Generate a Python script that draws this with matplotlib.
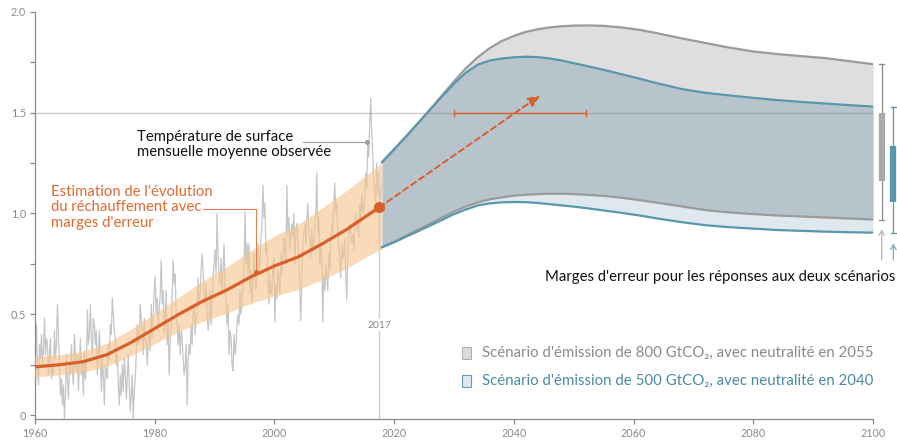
import numpy as np
import matplotlib
matplotlib.use("Agg")
import matplotlib.pyplot as plt

plt.rcParams['font.family'] = ['Lato', 'DejaVu Sans']

# ---------------- data ----------------
# observed monthly-mean surface temperature (read ~bimonthly from the picture), 1960 -> 2017
obs_values = [
    0.30, 0.45, 0.22, 0.15, 0.35, 0.28,   0.40, 0.25, 0.32, 0.48, 0.30, 0.38,
    0.35, 0.20, 0.30, 0.38, 0.18, 0.25,   0.20, 0.42, 0.28, 0.35, 0.55, 0.40,
    0.25, 0.10, 0.18, 0.05, 0.15, -0.02,  0.10, 0.30, 0.18, 0.08, 0.25, 0.20,
    0.35, 0.22, 0.15, 0.40, 0.30, 0.22,   0.30, 0.12, 0.25, 0.38, 0.20, 0.25,
    0.10, 0.32, 0.18, 0.25, 0.52, 0.35,   0.40, 0.55, 0.38, 0.30, 0.48, 0.45,
    0.35, 0.42, 0.20, 0.30, 0.42, 0.28,   0.12, 0.30, 0.20, 0.05, 0.25, 0.22,
    0.18, 0.35, 0.28, 0.45, 0.40, 0.58,   0.50, 0.42, 0.38, 0.25, 0.30, 0.15,
    0.05, 0.20, 0.10, 0.25, 0.12, 0.28,   0.22, 0.08, 0.18, 0.30, 0.15, 0.02,
    0.10, 0.20, -0.02, 0.12, 0.18, 0.30,  0.45, 0.35, 0.38, 0.55, 0.48, 0.40,
    0.30, 0.48, 0.38, 0.35, 0.25, 0.38,   0.42, 0.32, 0.55, 0.38, 0.50, 0.62,
    0.69, 0.50, 0.58, 0.42, 0.52, 0.60,   0.77, 0.55, 0.62, 0.40, 0.48, 0.62,
    0.35, 0.45, 0.20, 0.38, 0.45, 0.60,   0.77, 0.65, 0.70, 0.50, 0.45, 0.35,
    0.45, 0.30, 0.42, 0.38, 0.28, 0.20,   0.25, 0.35, 0.05, 0.28, 0.35, 0.30,
    0.45, 0.35, 0.50, 0.55, 0.40, 0.48,   0.50, 0.68, 0.55, 0.60, 0.72, 0.80,
    0.72, 0.60, 0.55, 0.65, 0.50, 0.42,   0.48, 0.62, 0.45, 0.55, 0.68, 0.75,
    0.82, 0.70, 1.00, 0.78, 0.70, 0.65,   0.78, 0.60, 0.72, 0.85, 0.62, 0.55,
    0.45, 0.55, 0.30, 0.42, 0.38, 0.25,   0.22, 0.40, 0.30, 0.35, 0.45, 0.50,
    0.45, 0.62, 0.50, 0.55, 0.65, 0.70,   1.01, 0.75, 0.85, 0.70, 0.85, 0.60,
    0.72, 0.55, 0.68, 0.80, 0.70, 0.62,   0.70, 0.85, 0.72, 0.75, 0.88, 0.95,
    1.14, 0.98, 1.05, 0.80, 0.85, 0.68,   0.55, 0.70, 0.60, 0.62, 0.72, 0.78,
    0.46, 0.65, 0.58, 0.72, 0.68, 0.60,   0.80, 0.70, 0.78, 0.88, 0.82, 0.75,
    1.14, 0.90, 0.98, 0.82, 0.88, 0.95,   0.88, 1.00, 0.75, 0.92, 0.95, 0.85,
    0.80, 0.62, 0.47, 0.70, 0.82, 0.90,   0.95, 0.85, 0.98, 1.05, 0.90, 0.88,
    0.78, 0.92, 0.82, 0.85, 0.95, 1.00,   1.20, 0.90, 0.98, 0.75, 0.85, 0.80,
    0.46, 0.70, 0.62, 0.75, 0.68, 0.62,   0.80, 0.72, 0.88, 0.95, 0.90, 1.05,
    1.15, 1.00, 1.05, 0.90, 0.85, 0.75,   0.68, 0.85, 0.78, 0.80, 0.88, 0.70,
    0.57, 0.80, 0.88, 0.95, 0.90, 0.85,   0.90, 0.82, 0.95, 1.00, 0.92, 0.95,
    0.88, 1.05, 0.95, 1.10, 1.02, 1.00,   1.08, 1.20, 1.12, 1.35, 1.28, 1.45,
    1.57, 1.40, 1.30, 1.15, 1.10, 1.05,   1.25, 1.10, 1.20, 1.00, 1.08, 1.15,
]
obs_start = 1960
obs_per_year = 6

# estimated warming trend with error band
trend_years = [1960, 1964, 1968, 1972, 1976, 1980, 1984, 1988, 1992, 1996, 2000, 2004, 2008, 2012, 2016, 2018]
trend_mid   = [0.24, 0.25, 0.265, 0.30, 0.36, 0.43, 0.50, 0.565, 0.62, 0.685, 0.74, 0.785, 0.85, 0.92, 1.00, 1.04]
trend_half  = [0.05, 0.05, 0.052, 0.058, 0.066, 0.075, 0.085, 0.10, 0.115, 0.13, 0.15, 0.162, 0.178, 0.192, 0.205, 0.215]

# scenarios
sc_years   = [2018, 2020, 2022, 2024, 2026, 2028, 2030, 2032, 2034, 2036, 2038, 2040, 2042, 2044, 2046, 2048,
              2050, 2052, 2055, 2058, 2061, 2064, 2068, 2072, 2076, 2080, 2084, 2088, 2092, 2096, 2100]
s800_upper = [1.255, 1.318, 1.382, 1.448, 1.515, 1.585, 1.655, 1.72, 1.775, 1.82, 1.855, 1.88, 1.90, 1.913, 1.922, 1.928,
              1.931, 1.932, 1.93, 1.922, 1.91, 1.893, 1.868, 1.845, 1.822, 1.803, 1.79, 1.78, 1.77, 1.755, 1.74]
s800_lower = [0.833, 0.86, 0.89, 0.92, 0.95, 0.98, 1.01, 1.035, 1.055, 1.07, 1.08, 1.088, 1.093, 1.096, 1.098, 1.098,
              1.096, 1.093, 1.087, 1.078, 1.066, 1.053, 1.035, 1.017, 1.005, 0.997, 0.99, 0.985, 0.98, 0.975, 0.97]
s500_upper = [1.255, 1.318, 1.382, 1.448, 1.515, 1.58, 1.643, 1.698, 1.738, 1.758, 1.768, 1.774, 1.777, 1.775, 1.768, 1.758,
              1.745, 1.732, 1.712, 1.69, 1.668, 1.645, 1.617, 1.598, 1.585, 1.573, 1.562, 1.553, 1.545, 1.537, 1.53]
s500_lower = [0.833, 0.857, 0.885, 0.912, 0.94, 0.968, 0.997, 1.02, 1.04, 1.05, 1.055, 1.057, 1.056, 1.052, 1.046, 1.04,
              1.034, 1.027, 1.015, 1.003, 0.99, 0.975, 0.957, 0.942, 0.932, 0.925, 0.918, 0.914, 0.91, 0.907, 0.905]

# right-hand error bars at 2100: [whisker low, box low, box high, whisker high]
bar800 = [0.97, 1.16, 1.50, 1.74]
bar500 = [0.905, 1.055, 1.335, 1.53]

# extrapolation arrow and 1.5 crossing range
dot_point   = (2017.5, 1.03)
arrow_end   = (2044.4, 1.585)
cross_range = [2030, 2052]

x_ticks = [1960, 1980, 2000, 2020, 2040, 2060, 2080, 2100]
y_ticks = [0, 0.25, 0.5, 0.75, 1.0, 1.25, 1.5, 1.75, 2.0]
y_labels = ['0', '', '0.5', '', '1.0', '', '1.5', '', '2.0']

legend_labels = ["Scénario d'émission de 800 GtCO₂, avec neutralité en 2055",
                 "Scénario d'émission de 500 GtCO₂, avec neutralité en 2040"]

# ---------------- colours ----------------
ORANGE = '#d8602a'
ORANGE_TXT = '#e06a30'
BAND_OR = '#f7c68e'
OBS = '#c3c7c9'
GRAY_FILL = '#dedede'
BLUE_FILL = '#dfe8ef'
OVER_FILL = '#b7c4cc'
GRAY_LINE = '#9b9b9b'
TEAL = '#5b97ab'
AXIS = '#8a8a8a'

fig = plt.figure(figsize=(8.97, 4.40), dpi=100)
W, H = 897, 440
ax = fig.add_axes([35 / W, 1 - 419.3 / H, (873 - 35) / W, (419.3 - 11.7) / H])
ax.set_xlim(1960, 2100)
ax.set_ylim(-0.02, 2.0)

# observed data
obs_t = obs_start + (np.arange(len(obs_values)) + 0.5) / obs_per_year
ax.plot(obs_t, obs_values, color=OBS, lw=0.9, zorder=2)

# 2017 marker line
ax.plot([dot_point[0], dot_point[0]], [-0.02, dot_point[1]], color='#cfcfcf', lw=1.0, zorder=1)
ax.text(dot_point[0], 0.447, '2017', ha='center', va='center', fontsize=7.5, color='#8a8a8a',
        zorder=6, bbox=dict(boxstyle='square,pad=0.15', fc='white', ec='none'))

# trend band and line
tm = np.array(trend_mid)
th = np.array(trend_half)
ax.fill_between(trend_years, tm - th, tm + th, color=BAND_OR, alpha=0.62, lw=0, zorder=3)
ax.plot(trend_years[:-1] + [dot_point[0]], list(tm[:-1]) + [dot_point[1]], color=ORANGE, lw=2.3,
        zorder=5, solid_capstyle='round')

# scenarios
g_lo, g_hi = np.array(s800_lower), np.array(s800_upper)
b_lo, b_hi = np.array(s500_lower), np.array(s500_upper)
ax.fill_between(sc_years, g_lo, g_hi, color=GRAY_FILL, lw=0, zorder=3)
ax.fill_between(sc_years, b_lo, b_hi, color=BLUE_FILL, lw=0, zorder=3)
ax.fill_between(sc_years, np.maximum(g_lo, b_lo), np.minimum(g_hi, b_hi), color=OVER_FILL, lw=0, zorder=3)
ax.plot(sc_years, g_hi, color=GRAY_LINE, lw=1.6, zorder=4)
ax.plot(sc_years, g_lo, color=GRAY_LINE, lw=1.6, zorder=4)
ax.plot(sc_years, b_hi, color=TEAL, lw=1.6, zorder=4)
ax.plot(sc_years, b_lo, color=TEAL, lw=1.6, zorder=4)

# 1.5 line
ax.axhline(1.5, color='#8f8f8f', alpha=0.45, lw=1.0, zorder=4.5)

# crossing range bar
ax.plot(cross_range, [1.5, 1.5], color=ORANGE, lw=1.0, zorder=5)
for xc in cross_range:
    ax.plot([xc, xc], [1.485, 1.515], color=ORANGE, lw=1.0, zorder=5)

# dashed arrow
ax.annotate('', xy=arrow_end, xytext=dot_point,
            arrowprops=dict(arrowstyle='-|>,head_length=0.7,head_width=0.3', color=ORANGE, lw=1.4,
                            linestyle=(0, (3, 2)), shrinkA=0, shrinkB=0), zorder=6)
ax.plot([dot_point[0]], [dot_point[1]], 'o', color=ORANGE, ms=7, zorder=7)

# annotations
ax.text(1977.04, 1.342, "Température de surface\nmensuelle moyenne observée", ha='left', va='center',
        fontsize=10.7, color='#111111', linespacing=1.15, zorder=8)
ax.plot([2004.8, 2015.4], [1.356, 1.356], color='#9a9a9a', lw=0.8, zorder=8)
ax.plot([2015.4], [1.356], 'o', color='#9a9a9a', ms=2.5, zorder=8)

ax.text(1962.7, 1.03, "Estimation de l'évolution\ndu réchauffement avec\nmarges d'erreur", ha='left', va='center',
        fontsize=10.7, color=ORANGE_TXT, linespacing=1.15, zorder=8)
ax.plot([1988.1, 1997.0, 1997.0], [1.021, 1.021, 0.712], color='#e0804e', lw=0.8, zorder=8)
ax.plot([1997.0], [0.712], 'o', color=ORANGE, ms=2.5, zorder=8)

# right-hand error bars
for xb, vals, col, boxcol in [(2101.45, bar800, '#8c8c8c', '#a9a9a9'), (2103.4, bar500, '#5b97ab', '#5b97ab')]:
    ax.plot([xb, xb], [vals[0], vals[3]], color=col, lw=0.9, clip_on=False, zorder=8)
    for yv in (vals[0], vals[3]):
        ax.plot([xb - 0.4, xb + 0.4], [yv, yv], color=col, lw=0.9, clip_on=False, zorder=8)
    ax.plot([xb, xb], [vals[1], vals[2]], color=boxcol, lw=4.5, solid_capstyle='butt', clip_on=False, zorder=9)

ax.annotate('', xy=(2101.45, 0.935), xytext=(2101.45, 0.755),
            arrowprops=dict(arrowstyle='->,head_length=0.35,head_width=0.2', color='#b5b5b5', lw=0.9),
            annotation_clip=False)
ax.annotate('', xy=(2103.4, 0.865), xytext=(2103.4, 0.755),
            arrowprops=dict(arrowstyle='->,head_length=0.35,head_width=0.2', color='#7fb0c0', lw=0.9),
            annotation_clip=False)
fig.text(895 / W, 1 - 277 / H, "Marges d'erreur pour les réponses aux deux scénarios", ha='right', va='center',
         fontsize=10.7, color='#111111')

# legend (manual)
for i, (lab, fc, ec, tc) in enumerate([(legend_labels[0], '#dcdcdc', '#b0b0b0', '#8a8a8a'),
                                       (legend_labels[1], '#dfe8ef', '#6a9fb2', '#4b8aa0')]):
    yc = [353.0, 380.5][i]
    fig.patches.append(plt.Rectangle((461.5 / W, 1 - (yc + 6) / H), 10 / W, 12 / H, transform=fig.transFigure,
                                     fc=fc, ec=ec, lw=0.8))
    fig.text(482 / W, 1 - yc / H, lab, ha='left', va='center', fontsize=10.8, color=tc)

# axes styling
for s in ('top', 'right'):
    ax.spines[s].set_visible(False)
for s in ('left', 'bottom'):
    ax.spines[s].set_color(AXIS)
    ax.spines[s].set_linewidth(0.9)
ax.set_xticks(x_ticks)
ax.set_xticklabels([str(x) for x in x_ticks])
ax.set_yticks(y_ticks)
ax.set_yticklabels(y_labels)
ax.tick_params(axis='both', colors=AXIS, labelcolor='#8a8a8a', labelsize=7.8, length=3.5, width=0.9, pad=3)

fig.savefig('out.png', dpi=100)
